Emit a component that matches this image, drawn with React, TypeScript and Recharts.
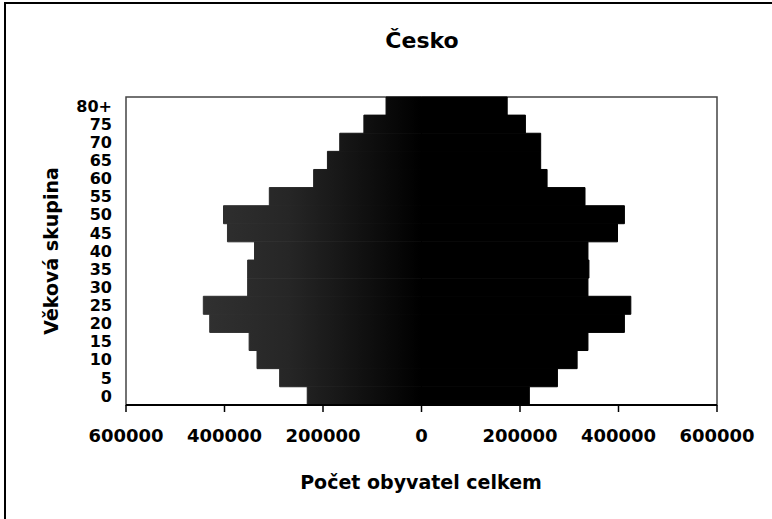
import React from 'react';
import { BarChart, Bar, XAxis, YAxis, ReferenceArea } from 'recharts';

const ageGroups = ['0', '5', '10', '15', '20', '25', '30', '35', '40', '45', '50', '55', '60', '65', '70', '75', '80+'];
const leftValues = [232000, 288000, 334000, 350000, 430000, 443000, 353000, 353000, 339000, 394000, 402000, 309000, 219000, 191000, 166000, 117000, 72000];
const rightValues = [219000, 276000, 316000, 338000, 412000, 425000, 338000, 340000, 338000, 398000, 412000, 332000, 255000, 242000, 242000, 211000, 174000];
const xTicks = [-600000, -400000, -200000, 0, 200000, 400000, 600000];

const title = 'Česko';
const xTitle = 'Počet obyvatel celkem';
const yTitle = 'Věková skupina';

const data = ageGroups.map((age, i) => ({ age, left: -leftValues[i], right: rightValues[i] }));

const FONT = '"DejaVu Sans", sans-serif';

export default function App() {
  return (
    <div style={{ position: 'absolute', left: 0, top: 0, width: 772, height: 519, background: '#fff', overflow: 'hidden' }}>
      <BarChart
        width={772}
        height={519}
        data={data}
        layout="vertical"
        stackOffset="sign"
        barCategoryGap={0}
        margin={{ top: 97, right: 55, left: 0, bottom: 54 }}
      >
        <defs>
          <linearGradient id="leftGrad" x1="126" y1="0" x2="421" y2="0" gradientUnits="userSpaceOnUse">
            <stop offset="0" stopColor="#3a3a3a" />
            <stop offset="0.55" stopColor="#262626" />
            <stop offset="1" stopColor="#000" />
          </linearGradient>
        </defs>
        <XAxis
          type="number"
          domain={[-600000, 600000]}
          ticks={xTicks}
          tickFormatter={(v: number) => String(Math.abs(v))}
          height={60}
          tickSize={7}
          tickMargin={17}
          axisLine={{ stroke: '#000', strokeWidth: 2 }}
          tickLine={{ stroke: '#000', strokeWidth: 1.5 }}
          tick={{ fill: '#000', fontSize: 18, fontWeight: 700, fontFamily: FONT }}
          allowDataOverflow
        />
        <YAxis
          type="category"
          dataKey="age"
          reversed
          width={126}
          tickLine={false}
          axisLine={false}
          tickSize={6}
          tickMargin={8}
          interval={0}
          tick={{ fill: '#000', fontSize: 16, fontWeight: 700, fontFamily: FONT }}
        />
        <Bar dataKey="left" stackId="a" fill="url(#leftGrad)" stroke="url(#leftGrad)" strokeWidth={1} isAnimationActive={false} />
        <Bar dataKey="right" stackId="a" fill="#000" stroke="#000" strokeWidth={1} isAnimationActive={false} />
        <ReferenceArea
          x1={-600000}
          x2={600000}
          fill="none"
          stroke="#444"
          strokeWidth={1.5}
          ifOverflow="visible"
        />
      </BarChart>
      <svg width={772} height={519} style={{ position: 'absolute', left: 0, top: 0, pointerEvents: 'none' }}>
        <rect x={5} y={3} width={800} height={600} fill="none" stroke="#000" strokeWidth={2} />
        <text x={422} y={48} textAnchor="middle" fontFamily={FONT} fontWeight={700} fontSize={22} fill="#000">{title}</text>
        <text x={421} y={489} textAnchor="middle" fontFamily={FONT} fontWeight={700} fontSize={19} fill="#000">{xTitle}</text>
        <text
          x={0}
          y={0}
          transform="translate(58 251) rotate(-90)"
          textAnchor="middle"
          fontFamily={FONT}
          fontWeight={700}
          fontSize={19}
          fill="#000"
        >
          {yTitle}
        </text>
      </svg>
    </div>
  );
}
